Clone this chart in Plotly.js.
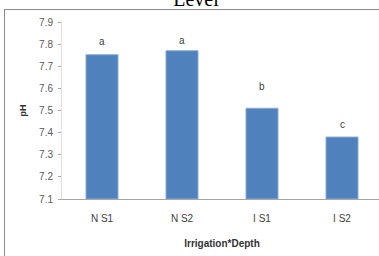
<!DOCTYPE html>
<html>
<head>
<meta charset="utf-8">
<script src="https://cdn.plot.ly/plotly-3.0.1.min.js"></script>
<style>
html,body{margin:0;padding:0;overflow:hidden;background:#fff;width:379px;height:256px;}
#chart{position:absolute;left:0;top:0;width:390px;height:256px;}
#frame{position:absolute;left:4px;top:9px;width:420px;height:300px;border-left:1px solid #8a8a8a;border-top:1px solid #8a8a8a;pointer-events:none;z-index:5;}
</style>
</head>
<body>
<div id="chart"></div>
<div id="frame"></div>
<script>
const categories = ['N S1', 'N S2', 'I S1', 'I S2'];
const phValues = [7.752, 7.77, 7.51, 7.38];
const groupLetters = ['a', 'a', 'b', 'c'];
const letterHeights = [7.81, 7.816, 7.61, 7.436];
const yTicks = [7.1, 7.2, 7.3, 7.4, 7.5, 7.6, 7.7, 7.8, 7.9];
const yBase = 7.1;

const trace = {
  type: 'bar',
  x: categories,
  y: phValues.map(v => v - yBase),
  base: yBase,
  width: 0.4,
  marker: {color: '#4F81BD', line: {color: '#8DA9D4', width: 1}},
  hoverinfo: 'none'
};

const annotations = categories.map((c, i) => ({
  x: c, y: letterHeights[i], xref: 'x', yref: 'y',
  text: groupLetters[i], showarrow: false,
  font: {family: 'Liberation Sans, Arial, sans-serif', size: 10, color: '#404040'}
}));

const layout = {
  width: 390, height: 256,
  margin: {l: 62, r: 8, t: 22, b: 57},
  paper_bgcolor: 'rgba(0,0,0,0)', plot_bgcolor: 'rgba(0,0,0,0)',
  showlegend: false,
  title: {
    text: 'Level',
    font: {family: 'Liberation Serif, Times New Roman, serif', size: 20, color: '#000'},
    xref: 'container', x: 196/390, xanchor: 'center',
    yref: 'container', y: 1 - 6/256, yanchor: 'bottom'
  },
  xaxis: {
    type: 'category',
    range: [-0.5, 3.5],
    showline: true, linecolor: '#a6a6a6', linewidth: 1,
    ticks: '', showgrid: false, zeroline: false,
    ticklabelstandoff: 10,
    tickfont: {family: 'Liberation Sans, Arial, sans-serif', size: 10, color: '#404040'},
    title: {text: '<b>Irrigation*Depth</b>', standoff: 16,
      font: {family: 'Liberation Sans, Arial, sans-serif', size: 10, color: '#333'}}
  },
  yaxis: {
    range: [7.1, 7.9],
    tickvals: yTicks,
    ticktext: yTicks.map(v => v.toFixed(1)),
    showline: true, linecolor: '#e0e0e0', linewidth: 1,
    ticks: 'outside', ticklen: 3, tickcolor: '#a6a6a6', tickwidth: 1,
    showgrid: false, zeroline: false,
    tickfont: {family: 'Liberation Sans, Arial, sans-serif', size: 10, color: '#595959'},
    ticklabelstandoff: 3,
    title: {text: '<b>pH</b>', standoff: 10,
      font: {family: 'Liberation Sans, Arial, sans-serif', size: 9, color: '#333'}}
  },
  annotations: annotations
};

Plotly.newPlot('chart', [trace], layout, {displayModeBar: false, staticPlot: true});
</script>
</body>
</html>
